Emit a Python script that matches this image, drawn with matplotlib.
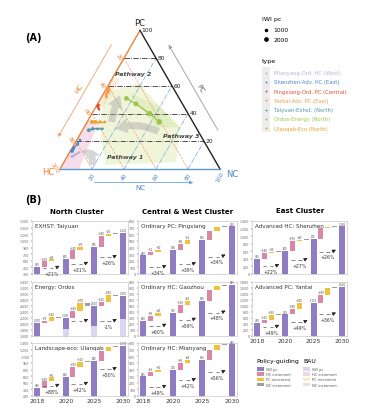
import numpy as np
import matplotlib.pyplot as plt
from matplotlib.patches import Polygon, FancyArrowPatch, Rectangle

# ---------------- data ----------------
city_names = ["Mianyang-Ord. HC (West)", "Shenzhen-Adv. HC (East)",
              "Pingxiang-Ord. PC (Central)", "Yantai-Adv. PC (East)",
              "Taiyuan-Exhst. (North)", "Ordos-Energy (North)", "Ulanqab-Eco (North)"]
city_colors = ["#b9b3dc", "#4f86c6", "#e2502e", "#f39b45", "#4d9aa6", "#9cc74a", "#eba020"]
# PC and NC shares (%) in 2018, 2020, 2025, 2030; HC is the rest
city_pc = [[12, 11, 10, 9], [21, 18, 15, 13], [43, 44, 45, 46], [52, 54, 56, 58],
           [29, 29, 29, 28], [51, 47, 40, 34], [34, 34, 34, 34]]
city_nc = [[6, 5, 4, 3], [2, 2, 1, 1], [3, 2, 1, 1], [3, 2, 2, 1],
           [12, 9, 6, 4], [16, 24, 36, 45], [11, 8, 5, 3]]

years = ["2018", "2020", "2025", "2030"]

taiyuan_iwi = [455, 640, 915, 1225]
taiyuan_hc = [130, 195, 240]
taiyuan_pc = [45, 70, 60]
taiyuan_nc = [10, 10, 10]
taiyuan_bau = [440, 530, 685]
taiyuan_pct = ["+21%", "+31%", "+26%"]

ordos_iwi = [2030, 2190, 2610, 2930]
ordos_hc = [70, 240, 120]
ordos_pc = [140, 270, 250]
ordos_nc = [-50, -90, -50]
ordos_bau_floor = [1600, 1830, 1940, 2160]
ordos_bau = [None, 2100, 2100]
ordos_pct = ["", "", "-1%"]

ulanqab_iwi = [380, 630, 990, 1330]
ulanqab_hc = [150, 230, 220]
ulanqab_pc = [90, 110, 110]
ulanqab_nc = [10, 20, 10]
ulanqab_bau = [430, 475, 810]
ulanqab_pct = ["+88%", "+42%", "+50%"]

pingxiang_iwi = [280, 368, 520, 720]
pingxiang_hc = [52, 90, 130]
pingxiang_pc = [30, 52, 60]
pingxiang_nc = [6, 10, 10]
pingxiang_bau = [104, 148, 264]
pingxiang_pct = ["+34%", "+39%", "+34%"]

gaozhou_iwi = [250, 390, 590, 845]
gaozhou_hc = [90, 130, 170]
gaozhou_pc = [40, 60, 70]
gaozhou_nc = [10, 10, 15]
gaozhou_bau = [170, 270, 390]
gaozhou_pct = ["+60%", "+59%", "+48%"]

mianyang_iwi = [295, 400, 550, 780]
mianyang_hc = [65, 95, 150]
mianyang_pc = [30, 45, 70]
mianyang_nc = [10, 10, 10]
mianyang_bau = [136, 240, 360]
mianyang_pct = ["+49%", "+42%", "+56%"]

shenzhen_iwi = [390, 600, 925, 1260]
shenzhen_hc = [160, 270, 290]
shenzhen_pc = [30, 40, 35]
shenzhen_nc = [20, 15, 10]
shenzhen_bau = [210, 370, 590]
shenzhen_pct = ["+22%", "+27%", "+26%"]

yantai_iwi = [430, 720, 1115, 1640]
yantai_hc = [120, 180, 250]
yantai_pc = [150, 200, 250]
yantai_nc = [20, 15, 25]
yantai_bau = [306, 468, 720]
yantai_pct = ["+49%", "+49%", "+36%"]

city_iwi = [mianyang_iwi, shenzhen_iwi, pingxiang_iwi, yantai_iwi,
            taiyuan_iwi, ordos_iwi, ulanqab_iwi]

purple, pink, yellow, grey = "#8f7cc3", "#d887a6", "#efc23a", "#9e9e9e"
pale = ["#dcd5ee", "#f2d6e0", "#f7ecc0", "#e3e3e3"]

W, H = 371, 410
fig = plt.figure(figsize=(W / 100, H / 100), dpi=100)


def fig_box(x0, y0, x1, y1):
    return [x0 / W, 1 - y1 / H, (x1 - x0) / W, (y1 - y0) / H]


def tp(hc, pc, nc):
    hc, pc, nc = np.asarray(hc, float), np.asarray(pc, float), np.asarray(nc, float)
    s = hc + pc + nc
    return (nc + pc / 2) / s, pc * np.sqrt(3) / 2 / s


# ---------------- (A) ternary ----------------
ax = fig.add_axes(fig_box(20, 15, 250, 200))
ax.set_xlim(-0.25, 1.1875)
ax.set_ylim(-0.1875, 0.96875)
ax.axis("off")

# shaded areas
for pts, col, al in [
    ([(45, 55, 0), (20, 62, 18), (10, 30, 60), (25, 5, 70), (70, 3, 27), (60, 30, 10)], "#edf2cf", 0.8),
    ([(30, 55, 15), (15, 45, 40), (10, 30, 60), (25, 30, 45)], "#d7e8ad", 0.5),
    ([(100, 0, 0), (65, 35, 0), (58, 35, 7), (88, 0, 12)], "#f4cfe0", 0.7),
    ([(55, 45, 0), (35, 65, 0), (30, 65, 5), (50, 45, 5)], "#f8dcc2", 0.6),
]:
    a = np.array(pts, float)
    x, y = tp(a[:, 0], a[:, 1], a[:, 2])
    ax.add_patch(Polygon(np.c_[x, y], closed=True, fc=col, ec="none", alpha=al, zorder=1))

# grid
for v in [0.2, 0.4, 0.6, 0.8]:
    x, y = tp([1 - v, 0], [v, v], [0, 1 - v])
    ax.plot(x, y, color="#333333", lw=0.6, ls="-.", zorder=2)
    x, y = tp([v, v], [1 - v, 0], [0, 1 - v])
    ax.plot(x, y, color="#f0a070", lw=0.5, ls="--", zorder=2)
    x, y = tp([1 - v, 0], [0, 1 - v], [v, v])
    ax.plot(x, y, color="#6aa3d8", lw=0.5, ls="-.", zorder=2)

# edges
for a, b, col in [((1, 0, 0), (0, 1, 0), "#e8823a"), ((0, 1, 0), (0, 0, 1), "#222222"),
                  ((1, 0, 0), (0, 0, 1), "#5b9bd5")]:
    x, y = tp([a[0], b[0]], [a[1], b[1]], [a[2], b[2]])
    ax.plot(x, y, color=col, lw=1.0, zorder=3)

# tick labels
for v in [0.2, 0.4, 0.6, 0.8, 1.0]:
    lab = str(int(v * 100))
    x, y = tp(0, v, 1 - v)
    ax.text(x + 0.01, y + 0.005, lab, fontsize=4.3, color="#222222", ha="left", va="center")
    x, y = tp(1 - v, 0, v)
    ax.text(x, y - 0.045, lab, fontsize=4.3, color="#4a86c5", rotation=60, ha="center", va="center")
    x, y = tp(v, 1 - v, 0)
    ax.text(x - 0.035, y + 0.01, lab, fontsize=4.3, color="#e8823a", rotation=-60, ha="center", va="center")

# axis arrows
s3 = np.sqrt(3) / 2
ax.add_patch(FancyArrowPatch((0.5 * 0.85 - 0.11 * s3, s3 * 0.85 + 0.055),
                             (0.5 * 0.15 - 0.11 * s3, s3 * 0.15 + 0.055),
                             arrowstyle="-|>", mutation_scale=5, color="#f0a070", lw=0.6))
ax.text(0.25 - 0.15 * s3, s3 * 0.5 + 0.075, "HC", color="#e8823a", fontsize=5, rotation=60,
        ha="center", va="center")
ax.add_patch(FancyArrowPatch((1 - 0.5 * 0.2 + 0.11 * s3, s3 * 0.2 + 0.055),
                             (1 - 0.5 * 0.85 + 0.11 * s3, s3 * 0.85 + 0.055),
                             arrowstyle="-|>", mutation_scale=5, color="#999999", lw=0.6))
ax.text(0.75 + 0.15 * s3, s3 * 0.5 + 0.075, "PC", color="#555555", fontsize=5, rotation=-60,
        ha="center", va="center")
ax.add_patch(FancyArrowPatch((0.2, -0.085), (0.85, -0.085), arrowstyle="-|>",
                             mutation_scale=5, color="#6aa3d8", lw=0.6))
ax.text(0.5, -0.115, "NC", color="#4a86c5", fontsize=5, ha="center", va="center")

ax.text(0.5, s3 + 0.05, "PC", fontsize=6, color="#222222", ha="center", va="center")
ax.text(-0.075, -0.015, "HC", fontsize=6, color="#e8823a", ha="center", va="center")
ax.text(1.075, -0.03, "NC", fontsize=6, color="#4a86c5", ha="center", va="center")

# pathway arrows
for a, b, rad in [((52, 32, 16), (34, 55, 11), -0.1),
                  ((24, 26, 50), (53, 28, 19), 0.25),
                  ((80, 1, 19), (82, 13, 5), 0.7)]:
    p0 = tp(*a)
    p1 = tp(*b)
    ax.add_patch(FancyArrowPatch(p0, p1, connectionstyle=f"arc3,rad={rad}",
                                 arrowstyle="simple,head_width=2.2,head_length=1.8,tail_width=1",
                                 mutation_scale=5, color="#a8a8a8", alpha=0.45, lw=0, zorder=4))
ax.text(*tp(20, 69, 11), "Pathway 2", fontsize=4.5, style="italic", weight="bold", color="#444444",
        ha="center", va="center", zorder=6)
ax.text(*tp(12, 24, 64), "Pathway 3", fontsize=4.5, style="italic", weight="bold", color="#444444",
        ha="center", va="center", zorder=6)
ax.text(*tp(55, 9, 36), "Pathway 1", fontsize=4.5, style="italic", weight="bold", color="#444444",
        ha="center", va="center", zorder=6)

# city trajectories
for pc, nc, iwi, col in zip(city_pc, city_nc, city_iwi, city_colors):
    pc = np.array(pc, float)
    nc = np.array(nc, float)
    x, y = tp(100 - pc - nc, pc, nc)
    ax.plot(x, y, color=col, lw=1.0, zorder=7)
    ax.scatter(x, y, s=1.5 + np.array(iwi) / 1000 * 5, color=col, zorder=8, lw=0)

# ---------------- overlay text / legends ----------------
ov = fig.add_axes([0, 0, 1, 1], zorder=10)
ov.set_xlim(0, W)
ov.set_ylim(H, 0)
ov.axis("off")
ov.patch.set_alpha(0)

ov.text(25, 38, "(A)", fontsize=7, weight="bold", va="center")
ov.text(25, 200, "(B)", fontsize=7, weight="bold", va="center")

ov.text(262, 20, "IWI pc", fontsize=4.5, va="center")
for yy, v in [(31, 1000), (40, 2000)]:
    ov.scatter([266], [yy], s=1.5 + v / 1000 * 5, color="black", lw=0)
    ov.text(273, yy, str(v), fontsize=4.3, va="center")
ov.text(262, 62, "type", fontsize=4.5, va="center")
ov.add_patch(Rectangle((262, 68), 8, 65, fc="#ececec", ec="none"))
for i, (nm, col) in enumerate(zip(city_names, city_colors)):
    yy = 73.5 + 9.3 * i
    ov.scatter([266], [yy], s=2, color=col, lw=0)
    ov.text(274, yy, nm, fontsize=3.8, color=col, va="center")

ov.text(77, 212, "North Cluster", fontsize=5, weight="bold", ha="center", va="center")
ov.text(188, 212, "Central & West Cluster", fontsize=5, weight="bold", ha="center", va="center")
ov.text(300, 211, "East Cluster", fontsize=5, weight="bold", ha="center", va="center")

inc_names = ["IWI pc", "HC increment", "PC increment", "NC increment"]
ov.text(256, 362, "Policy-guiding", fontsize=4.4, va="center")
ov.text(303, 362, "BAU", fontsize=4.4, va="center")
for i, nm in enumerate(inc_names):
    yy = 370 + 5.2 * i
    ov.add_patch(Rectangle((257, yy - 1.8), 7, 3.6, fc=[purple, pink, yellow, grey][i], ec="none"))
    ov.text(266, yy, nm, fontsize=2.6, va="center", color="#555555")
    ov.add_patch(Rectangle((303, yy - 1.8), 7, 3.6, fc=pale[i], ec="none"))
    ov.text(312, yy, nm, fontsize=2.6, va="center", color="#555555")


# ---------------- (B) waterfalls ----------------
def waterfall(box, title, lo, hi, step, iwi, hc, pc, nc, bau, pct, floor=None, xlabels=False):
    a = fig.add_axes(fig_box(*box))
    rng = hi - lo
    a.set_xlim(-0.7, 12.7)
    a.set_ylim(lo, hi)
    for k in range(4):
        base = lo
        if floor is not None and floor[k] > lo:
            a.bar(4 * k, floor[k] - lo, bottom=lo, width=0.85, color=pale[0])
            base = floor[k]
        a.bar(4 * k, iwi[k] - base, bottom=base, width=0.85, color=purple)
        a.text(4 * k, iwi[k] + 0.015 * rng, f"{iwi[k]:,}", fontsize=1.8, ha="center", va="bottom",
               color="#444444")
    for k in range(3):
        y0 = iwi[k]
        a.bar(4 * k + 1, hc[k], bottom=y0, width=0.7, color=pink)
        a.bar(4 * k + 2, pc[k], bottom=y0 + hc[k], width=0.7, color=yellow)
        a.bar(4 * k + 3, nc[k], bottom=y0 + hc[k] + pc[k], width=0.7, color=grey)
        for j, top, lab in [(1, y0 + hc[k], hc[k]), (2, y0 + hc[k] + pc[k], pc[k])]:
            if top < lo + 0.8 * rng:
                a.text(4 * k + j, top + 0.015 * rng, f"+{lab}", fontsize=1.8, ha="center",
                       va="bottom", color="#444444")
        if bau[k] is not None:
            a.hlines([bau[k], bau[k]], [4 * k + 0.8, 4 * k + 1.8], [4 * k + 1.3, 4 * k + 2.3],
                     color="#555555", lw=0.5)
            a.annotate("", xy=(4 * k + 3.5, bau[k] + 0.06 * rng), xytext=(4 * k + 2.6, bau[k]),
                       arrowprops=dict(arrowstyle="-|>", color="#222222", lw=0.6,
                                       mutation_scale=5))
            a.text(4 * k + 2, bau[k] - 0.1 * rng, pct[k], fontsize=3.3, ha="center",
                   va="center", color="#333333")
    a.text(0.03, 0.96, title, transform=a.transAxes, fontsize=4.1, va="top", ha="left",
           color="#333333")
    ticks = np.arange(lo, hi + 1, step)
    a.set_yticks(ticks)
    a.set_yticklabels([f"{t:,}" for t in ticks], fontsize=2.3, color="#666666")
    a.set_xticks([0, 4, 8, 12])
    if xlabels:
        a.set_xticklabels(years, fontsize=4.3, color="#333333")
    else:
        a.set_xticklabels([])
    a.tick_params(length=1, width=0.3, pad=0.8)
    for sp in a.spines.values():
        sp.set_color("#bbbbbb")
        sp.set_linewidth(0.4)
    return a


cols = [(32, 128), (138, 237), (252, 347)]
rows = [(222, 275), (283, 337), (344, 397)]

waterfall((cols[0][0], rows[0][0], cols[0][1], rows[0][1]), "EXHST: Taiyuan", 300, 1500, 150,
          taiyuan_iwi, taiyuan_hc, taiyuan_pc, taiyuan_nc, taiyuan_bau, taiyuan_pct)
waterfall((cols[0][0], rows[1][0], cols[0][1], rows[1][1]), "Energy: Ordos", 1600, 3400, 200,
          ordos_iwi, ordos_hc, ordos_pc, ordos_nc, ordos_bau, ordos_pct, floor=ordos_bau_floor)
waterfall((cols[0][0], rows[2][0], cols[0][1], rows[2][1]), "Landscape-eco: Ulanqab", 200, 1400, 150,
          ulanqab_iwi, ulanqab_hc, ulanqab_pc, ulanqab_nc, ulanqab_bau, ulanqab_pct, xlabels=True)
waterfall((cols[1][0], rows[0][0], cols[1][1], rows[0][1]), "Ordinary PC: Pingxiang", 0, 800, 100,
          pingxiang_iwi, pingxiang_hc, pingxiang_pc, pingxiang_nc, pingxiang_bau, pingxiang_pct)
waterfall((cols[1][0], rows[1][0], cols[1][1], rows[1][1]), "Ordinary HC: Gaozhou", 0, 900, 100,
          gaozhou_iwi, gaozhou_hc, gaozhou_pc, gaozhou_nc, gaozhou_bau, gaozhou_pct)
waterfall((cols[1][0], rows[2][0], cols[1][1], rows[2][1]), "Ordinary HC: Mianyang", 0, 800, 100,
          mianyang_iwi, mianyang_hc, mianyang_pc, mianyang_nc, mianyang_bau, mianyang_pct,
          xlabels=True)
waterfall((cols[2][0], rows[0][0], cols[2][1], rows[0][1]), "Advanced HC: Shenzhen", 0, 1400, 200,
          shenzhen_iwi, shenzhen_hc, shenzhen_pc, shenzhen_nc, shenzhen_bau, shenzhen_pct)
waterfall((cols[2][0], rows[1][0], cols[2][1], rows[1][1]), "Advanced PC: Yantai", 0, 1800, 200,
          yantai_iwi, yantai_hc, yantai_pc, yantai_nc, yantai_bau, yantai_pct, xlabels=True)

fig.savefig("out.png", dpi=100)
